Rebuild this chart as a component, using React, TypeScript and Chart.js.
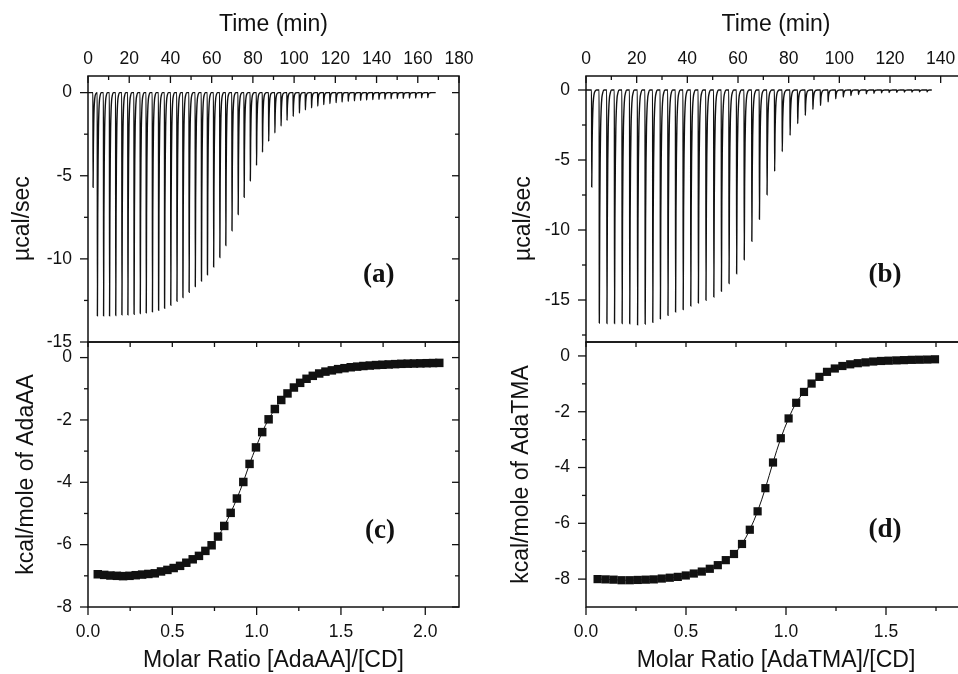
import React, { useEffect, useRef } from 'react';
import { Chart, registerables } from 'chart.js';

Chart.register(...registerables);

// ---------- data: thermogram (a) ----------
const TIME_A = [2.4, 4.5, 7.5, 10.4, 13.4, 16.4, 19.3, 22.3, 25.3, 28.2, 31.2, 34.2, 37.1, 40.1, 43.1, 46.0, 49.0, 52.0, 55.0, 57.9, 60.9, 63.9, 66.8, 69.8, 72.8, 75.7, 78.7, 81.7, 84.6, 87.6, 90.6, 93.6, 96.5, 99.5, 102.5, 105.4, 108.4, 111.4, 114.3, 117.3, 120.3, 123.2, 126.2, 129.2, 132.2, 135.1, 138.1, 141.1, 144.0, 147.0, 150.0, 152.9, 155.9, 158.9, 161.8, 164.8];
const PEAK_A = [-5.7, -13.43, -13.43, -13.43, -13.41, -13.37, -13.37, -13.33, -13.29, -13.25, -13.19, -13.09, -12.97, -12.79, -12.55, -12.33, -12.01, -11.67, -11.33, -10.96, -10.49, -9.92, -9.2, -8.31, -7.33, -6.3, -5.3, -4.38, -3.59, -2.93, -2.43, -2.01, -1.67, -1.43, -1.23, -1.04, -0.92, -0.8, -0.72, -0.66, -0.6, -0.56, -0.52, -0.49, -0.46, -0.44, -0.42, -0.4, -0.38, -0.37, -0.35, -0.34, -0.33, -0.32, -0.31, -0.3];
const END_A = 168.7;

// ---------- data: thermogram (b) ----------
const TIME_B = [2.2, 5.2, 8.2, 11.2, 14.2, 17.2, 20.3, 23.3, 26.3, 29.3, 32.3, 35.3, 38.3, 41.3, 44.3, 47.3, 50.4, 53.4, 56.4, 59.4, 62.4, 65.4, 68.4, 71.4, 74.4, 77.4, 80.5, 83.5, 86.5, 89.5, 92.5, 95.5, 98.5, 101.5, 104.5, 107.5, 110.6, 113.6, 116.6, 119.6, 122.6, 125.6, 128.6, 131.6, 134.6];
const PEAK_B = [-6.93, -16.65, -16.68, -16.68, -16.68, -16.7, -16.78, -16.72, -16.6, -16.35, -16.1, -15.86, -15.69, -15.43, -15.21, -15.02, -14.79, -14.38, -13.83, -13.12, -12.12, -10.81, -9.24, -7.48, -5.81, -4.4, -3.24, -2.4, -1.81, -1.38, -1.1, -0.84, -0.62, -0.5, -0.4, -0.33, -0.27, -0.23, -0.2, -0.18, -0.16, -0.15, -0.14, -0.13, -0.12];
const END_B = 136.4;

// shape of one injection peak (minutes after injection, fraction of peak depth)
const PEAK_OFFSETS = [0, 0.06, 0.22, 0.4, 0.58, 0.8, 1.05, 1.4, 1.9];
const PEAK_PROFILE = [0, 1, 0.55, 0.3, 0.16, 0.08, 0.035, 0.012, 0];

// ---------- data: binding isotherm (c) ----------
const RATIO_C = [0.058, 0.096, 0.133, 0.171, 0.208, 0.246, 0.283, 0.321, 0.358, 0.396, 0.433, 0.471, 0.508, 0.546, 0.583, 0.621, 0.658, 0.696, 0.733, 0.771, 0.808, 0.846, 0.883, 0.921, 0.958, 0.996, 1.033, 1.071, 1.108, 1.146, 1.183, 1.221, 1.258, 1.296, 1.333, 1.371, 1.408, 1.446, 1.483, 1.521, 1.558, 1.596, 1.633, 1.671, 1.708, 1.746, 1.783, 1.821, 1.858, 1.896, 1.933, 1.971, 2.008, 2.046, 2.083];
const HEAT_C = [-6.95, -6.97, -6.99, -7.0, -7.01, -7.0, -6.98, -6.96, -6.94, -6.92, -6.86, -6.81, -6.75, -6.68, -6.58, -6.47, -6.36, -6.2, -6.02, -5.74, -5.4, -4.98, -4.52, -3.99, -3.41, -2.88, -2.39, -1.98, -1.65, -1.36, -1.15, -0.96, -0.81, -0.68, -0.585, -0.51, -0.45, -0.41, -0.37, -0.34, -0.31, -0.29, -0.27, -0.255, -0.24, -0.23, -0.22, -0.21, -0.2, -0.195, -0.19, -0.185, -0.18, -0.175, -0.17];

// ---------- data: binding isotherm (d) ----------
const RATIO_D = [0.058, 0.098, 0.138, 0.178, 0.219, 0.259, 0.299, 0.339, 0.379, 0.419, 0.459, 0.499, 0.539, 0.579, 0.619, 0.659, 0.699, 0.74, 0.78, 0.819, 0.858, 0.897, 0.935, 0.974, 1.013, 1.051, 1.09, 1.128, 1.167, 1.205, 1.244, 1.282, 1.321, 1.359, 1.398, 1.436, 1.475, 1.513, 1.552, 1.59, 1.629, 1.667, 1.706, 1.745];
const HEAT_D = [-8.0, -8.01, -8.02, -8.04, -8.04, -8.03, -8.02, -8.01, -7.98, -7.95, -7.92, -7.87, -7.8, -7.73, -7.63, -7.5, -7.32, -7.1, -6.74, -6.23, -5.57, -4.74, -3.82, -2.95, -2.24, -1.68, -1.29, -0.99, -0.75, -0.57, -0.45, -0.36, -0.3, -0.26, -0.23, -0.2, -0.18, -0.17, -0.16, -0.15, -0.14, -0.135, -0.13, -0.12];

// ---------- ticks ----------
const X_TICKS_A = [0, 20, 40, 60, 80, 100, 120, 140, 160, 180];
const X_MINOR_A = [10, 30, 50, 70, 90, 110, 130, 150, 170];
const Y_TICKS_A = [0, -5, -10, -15];
const Y_MINOR_A = [-2.5, -7.5, -12.5];
const X_TICKS_B = [0, 20, 40, 60, 80, 100, 120, 140];
const X_MINOR_B = [10, 30, 50, 70, 90, 110, 130];
const Y_TICKS_B = [0, -5, -10, -15];
const Y_MINOR_B = [-2.5, -7.5, -12.5, -17.5];
const X_TICKS_C = [0, 0.5, 1.0, 1.5, 2.0];
const X_MINOR_C = [0.25, 0.75, 1.25, 1.75];
const Y_TICKS_C = [0, -2, -4, -6, -8];
const Y_MINOR_C = [-1, -3, -5, -7];
const X_TICKS_D = [0, 0.5, 1.0, 1.5];
const X_MINOR_D = [0.25, 0.75, 1.25, 1.75];
const Y_TICKS_D = [0, -2, -4, -6, -8];
const Y_MINOR_D = [-1, -3, -5, -7];

const CANVAS_W = 980;
const CANVAS_H = 674;
const SANS = "'Liberation Sans', Arial, Helvetica, sans-serif";
const SERIF = "'Liberation Serif', 'Times New Roman', serif";

function buildTrace(times: number[], peaks: number[], end: number) {
  const pts: { x: number; y: number }[] = [{ x: 0, y: 0 }];
  times.forEach((t, i) => {
    PEAK_OFFSETS.forEach((o, j) => pts.push({ x: t + o, y: peaks[i] * PEAK_PROFILE[j] }));
  });
  pts.push({ x: end, y: 0 });
  return pts;
}

function pairs(xs: number[], ys: number[]) {
  return xs.map((x, i) => ({ x, y: ys[i] }));
}

const framePlugin = {
  id: 'frame',
  afterDraw(chart: any, _args: any, opts: any) {
    const { ctx, chartArea } = chart;
    const { left, right, top, bottom } = chartArea;
    const xs = chart.scales.x;
    const ys = chart.scales.y;
    ctx.save();
    ctx.strokeStyle = '#111';
    const seg = (x1: number, y1: number, x2: number, y2: number) => {
      ctx.beginPath();
      ctx.moveTo(x1, y1);
      ctx.lineTo(x2, y2);
      ctx.stroke();
    };
    ctx.lineWidth = 1.3;
    for (const v of opts.yMajor) {
      const p = ys.getPixelForValue(v);
      seg(left - 8, p, left, p);
      seg(right, p, right - 7, p);
    }
    for (const v of opts.yMinor) {
      const p = ys.getPixelForValue(v);
      seg(left - 4, p, left, p);
      seg(right, p, right - 4, p);
    }
    for (const v of opts.xMajor) {
      const p = xs.getPixelForValue(v);
      if (opts.xPos === 'top') {
        seg(p, top, p, top + 7);
      } else {
        seg(p, bottom, p, bottom + 8);
        seg(p, top, p, top + 5);
      }
    }
    for (const v of opts.xMinor) {
      const p = xs.getPixelForValue(v);
      if (opts.xPos === 'top') {
        seg(p, top, p, top + 4);
      } else {
        seg(p, bottom, p, bottom + 4);
        seg(p, top, p, top + 5);
      }
    }
    ctx.lineWidth = 1.5;
    ctx.strokeRect(left, top, right - left, bottom - top);
    ctx.fillStyle = '#111';
    ctx.font = `bold 27px ${SERIF}`;
    ctx.textAlign = 'center';
    ctx.textBaseline = 'middle';
    ctx.fillText(
      opts.label,
      left + (right - left) * opts.labelAt[0],
      top + (bottom - top) * opts.labelAt[1]
    );
    ctx.restore();
  },
};

type Spec = {
  area: { l: number; t: number; r: number; b: number };
  xPos: 'top' | 'bottom';
  yAxisW: number;
  xAxisH: number;
  xMin: number;
  xMax: number;
  yMin: number;
  yMax: number;
  xTicks: number[];
  xMinor: number[];
  yTicks: number[];
  yMinor: number[];
  xFmt: (v: number) => string;
  xTitle: string;
  yTitle: string;
  xTitlePad: number;
  yTitlePad: number;
  label: string;
  labelAt: [number, number];
  datasets: any[];
};

function fixScale(size: number, horizontal: boolean) {
  return (scale: any) => {
    if (horizontal) scale.height = size;
    else scale.width = size;
    scale.paddingTop = 0;
    scale.paddingBottom = 0;
    scale.paddingLeft = 0;
    scale.paddingRight = 0;
  };
}

function makeConfig(s: Spec): any {
  const { l, t, r, b } = s.area;
  const top = s.xPos === 'top';
  return {
    type: 'line',
    data: { datasets: s.datasets },
    options: {
      responsive: false,
      animation: false,
      events: [],
      layout: {
        padding: {
          left: l - s.yAxisW,
          right: CANVAS_W - r,
          top: top ? t - s.xAxisH : t,
          bottom: top ? CANVAS_H - b : CANVAS_H - b - s.xAxisH,
        },
      },
      plugins: {
        legend: { display: false },
        tooltip: { enabled: false },
        frame: {
          xMajor: s.xTicks,
          xMinor: s.xMinor,
          yMajor: s.yTicks,
          yMinor: s.yMinor,
          xPos: s.xPos,
          label: s.label,
          labelAt: s.labelAt,
        },
      },
      scales: {
        x: {
          type: 'linear',
          position: s.xPos,
          min: s.xMin,
          max: s.xMax,
          afterBuildTicks: (scale: any) => {
            scale.ticks = s.xTicks.map((v) => ({ value: v }));
          },
          afterFit: fixScale(s.xAxisH, true),
          grid: { display: false, drawTicks: !top, tickLength: 8 },
          border: { display: false },
          ticks: {
            autoSkip: false,
            maxRotation: 0,
            padding: top ? 6 : 7,
            color: '#111',
            font: { family: SANS, size: 17.5 },
            callback: (v: any) => s.xFmt(Number(v)),
          },
          title: {
            display: true,
            text: s.xTitle,
            color: '#111',
            font: { family: SANS, size: 23 },
            padding: { top: s.xTitlePad, bottom: 0 },
          },
        },
        y: {
          type: 'linear',
          position: 'left',
          min: s.yMin,
          max: s.yMax,
          afterBuildTicks: (scale: any) => {
            scale.ticks = s.yTicks.map((v) => ({ value: v }));
          },
          afterFit: fixScale(s.yAxisW, false),
          grid: { display: false, drawTicks: true, tickLength: 8 },
          border: { display: false },
          ticks: {
            autoSkip: false,
            padding: 8,
            color: '#111',
            font: { family: SANS, size: 17.5 },
            callback: (v: any) => String(Number(v)),
          },
          title: {
            display: true,
            text: s.yTitle,
            color: '#111',
            font: { family: SANS, size: 23 },
            padding: { top: s.yTitlePad, bottom: 0 },
          },
        },
      },
    },
    plugins: [framePlugin],
  };
}

const traceDataset = (pts: any[]) => ({
  data: pts,
  borderColor: '#111',
  borderWidth: 1.4,
  pointRadius: 0,
  cubicInterpolationMode: 'monotone',
  fill: false,
});

const isoDataset = (pts: any[], r: number) => ({
  data: pts,
  borderColor: '#111',
  borderWidth: 1,
  tension: 0.35,
  pointStyle: 'rect',
  pointRadius: r,
  pointBorderWidth: 0,
  pointBackgroundColor: '#111',
  pointBorderColor: '#111',
  fill: false,
});

const intFmt = (v: number) => String(v);
const decFmt = (v: number) => v.toFixed(1);

const SPECS: Spec[] = [
  {
    area: { l: 88, t: 76, r: 459, b: 342 },
    xPos: 'top', yAxisW: 88, xAxisH: 76,
    xMin: 0, xMax: 180, yMin: -15, yMax: 1,
    xTicks: X_TICKS_A, xMinor: X_MINOR_A, yTicks: Y_TICKS_A, yMinor: Y_MINOR_A,
    xFmt: intFmt, xTitle: 'Time (min)', yTitle: 'µcal/sec\u00a0\u00a0\u00a0', xTitlePad: 11, yTitlePad: 9,
    label: '(a)', labelAt: [0.784, 0.748],
    datasets: [traceDataset(buildTrace(TIME_A, PEAK_A, END_A))],
  },
  {
    area: { l: 586, t: 76, r: 966, b: 342 },
    xPos: 'top', yAxisW: 107, xAxisH: 76,
    xMin: 0, xMax: 150, yMin: -18, yMax: 1,
    xTicks: X_TICKS_B, xMinor: X_MINOR_B, yTicks: Y_TICKS_B, yMinor: Y_MINOR_B,
    xFmt: intFmt, xTitle: 'Time (min)', yTitle: 'µcal/sec\u00a0\u00a0\u00a0', xTitlePad: 11, yTitlePad: 31,
    label: '(b)', labelAt: [0.787, 0.748],
    datasets: [traceDataset(buildTrace(TIME_B, PEAK_B, END_B))],
  },
  {
    area: { l: 88, t: 342, r: 459, b: 607 },
    xPos: 'bottom', yAxisW: 88, xAxisH: 67,
    xMin: 0, xMax: 2.2, yMin: -8, yMax: 0.5,
    xTicks: X_TICKS_C, xMinor: X_MINOR_C, yTicks: Y_TICKS_C, yMinor: Y_MINOR_C,
    xFmt: decFmt, xTitle: 'Molar Ratio [AdaAA]/[CD]', yTitle: 'kcal/mole of AdaAA', xTitlePad: 0, yTitlePad: 13,
    label: '(c)', labelAt: [0.787, 0.713],
    datasets: [isoDataset(pairs(RATIO_C, HEAT_C), 6)],
  },
  {
    area: { l: 586, t: 342, r: 966, b: 607 },
    xPos: 'bottom', yAxisW: 107, xAxisH: 67,
    xMin: 0, xMax: 1.9, yMin: -9, yMax: 0.5,
    xTicks: X_TICKS_D, xMinor: X_MINOR_D, yTicks: Y_TICKS_D, yMinor: Y_MINOR_D,
    xFmt: decFmt, xTitle: 'Molar Ratio [AdaTMA]/[CD]', yTitle: 'kcal/mole of AdaTMA', xTitlePad: 0, yTitlePad: 29,
    label: '(d)', labelAt: [0.787, 0.709],
    datasets: [isoDataset(pairs(RATIO_D, HEAT_D), 5.8)],
  },
];

function Panel({ spec }: { spec: Spec }) {
  const ref = useRef<HTMLCanvasElement | null>(null);
  useEffect(() => {
    if (!ref.current) return;
    const chart = new Chart(ref.current, makeConfig(spec));
    return () => chart.destroy();
  }, [spec]);
  return (
    <canvas
      ref={ref}
      width={CANVAS_W}
      height={CANVAS_H}
      style={{ position: 'absolute', left: 0, top: 0, width: CANVAS_W, height: CANVAS_H }}
    />
  );
}

export default function App() {
  return (
    <div
      style={{
        position: 'fixed',
        left: 0,
        top: 0,
        width: 958,
        height: 674,
        overflow: 'hidden',
        background: '#fff',
      }}
    >
      {SPECS.map((s, i) => (
        <Panel key={i} spec={s} />
      ))}
    </div>
  );
}
